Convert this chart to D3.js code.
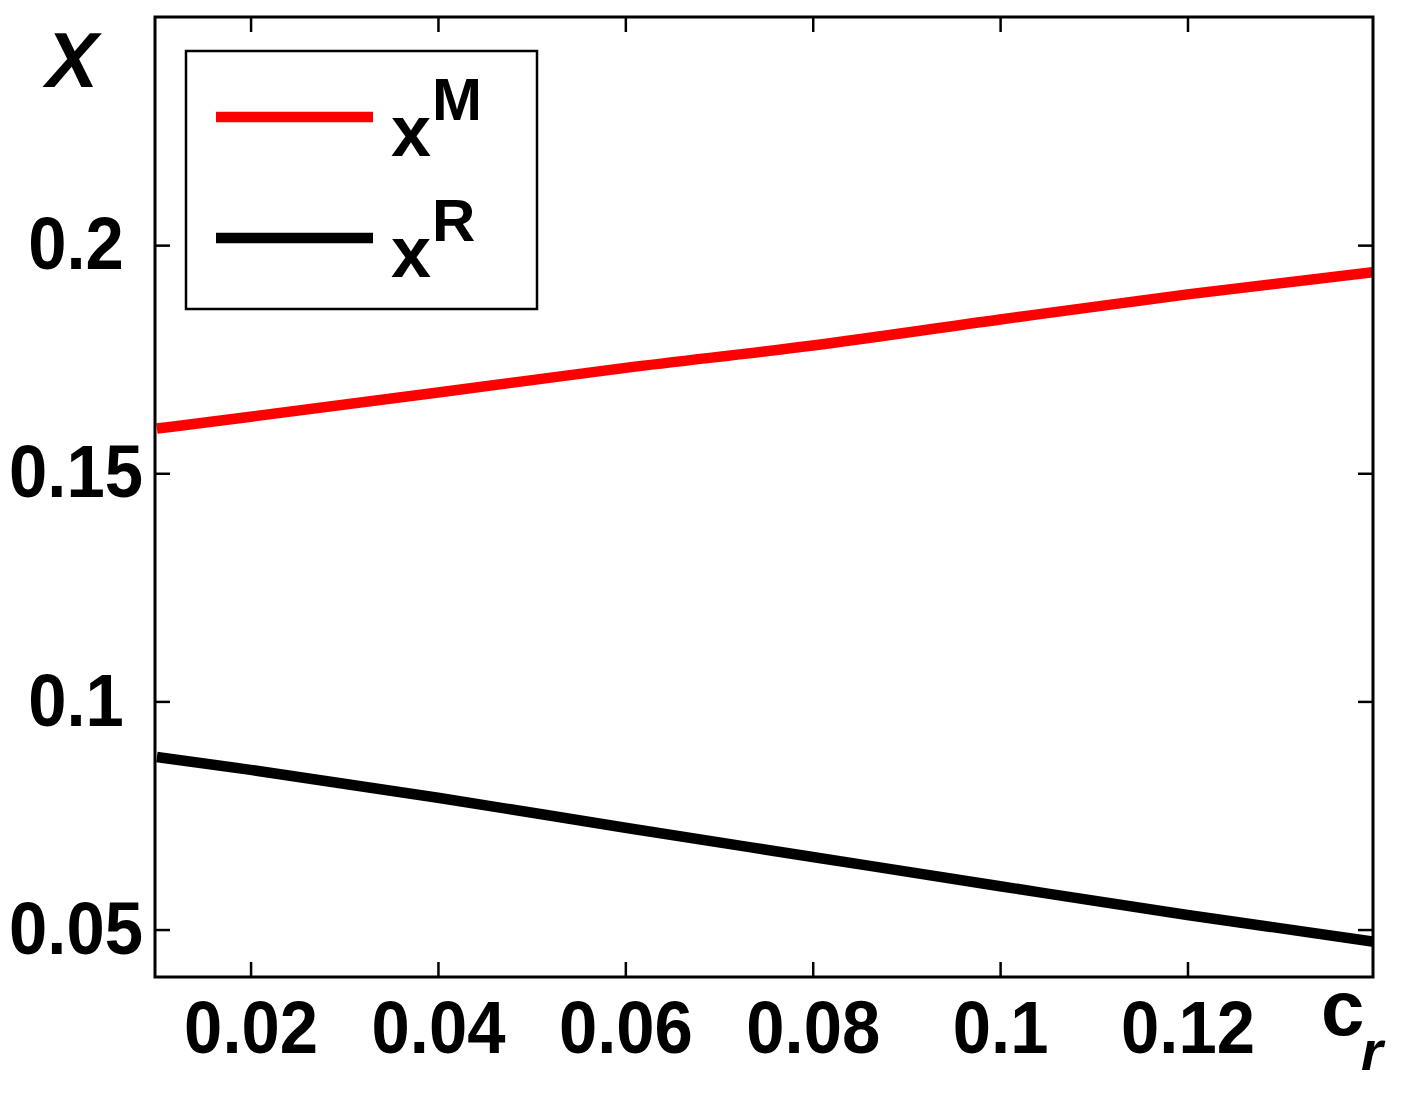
<!DOCTYPE html>
<html>
<head>
<meta charset="utf-8">
<script src="https://cdn.jsdelivr.net/npm/d3@7"></script>
<style>
  body { margin: 0; background: #fff; }
  svg text { font-family: "Liberation Sans", Arial, sans-serif; }
</style>
</head>
<body>
<div id="chart"></div>
<script>
// values
var crValues = [0.01, 0.02, 0.04, 0.06, 0.08, 0.10, 0.12, 0.14];
var xM = [0.1598, 0.1624, 0.1677, 0.1731, 0.1780, 0.1837, 0.1892, 0.1941];
var xR = [0.0878, 0.0850, 0.0789, 0.0723, 0.0659, 0.0595, 0.0532, 0.0473];
var xTicks = [0.02, 0.04, 0.06, 0.08, 0.1, 0.12];
var yTicks = [0.05, 0.1, 0.15, 0.2];
var xTickLabels = ["0.02", "0.04", "0.06", "0.08", "0.1", "0.12"];
var yTickLabels = ["0.05", "0.1", "0.15", "0.2"];
var seriesNames = ["M", "R"];
var seriesColors = ["#ff0000", "#000000"];

var W = 1409, H = 1100;
var margin = {top: 17, right: 36, bottom: 123, left: 155};
var width = W - margin.left - margin.right,
    height = H - margin.top - margin.bottom;

var svg = d3.select("#chart").append("svg")
    .attr("width", W)
    .attr("height", H);

var g = svg.append("g")
    .attr("transform", "translate(" + margin.left + "," + margin.top + ")");

var xScale = d3.scaleLinear().domain([0.0098, 0.1398]).range([0, width]),
    yScale = d3.scaleLinear().domain([0.0396, 0.25]).range([height, 0]);

g.append("clipPath").attr("id", "clip")
  .append("rect").attr("width", width).attr("height", height);

// series lines
var series = [xM, xR];
var line = d3.line()
    .x(function(d, i) { return xScale(crValues[i]); })
    .y(function(d) { return yScale(d); })
    .curve(d3.curveMonotoneX);

g.append("g").attr("clip-path", "url(#clip)")
  .selectAll("path")
  .data(series)
  .enter().append("path")
    .attr("d", line)
    .attr("fill", "none")
    .attr("stroke", function(d, i) { return seriesColors[i]; })
    .attr("stroke-width", 10.5);

// axes, ticks pointing inward on all four sides
var fontSize = 74, squeeze = 0.93;

var xAxis = d3.axisBottom(xScale).tickValues(xTicks)
    .tickFormat(function(d, i) { return xTickLabels[i]; })
    .tickSizeInner(-15).tickSizeOuter(0).tickPadding(23);
var yAxis = d3.axisLeft(yScale).tickValues(yTicks)
    .tickFormat(function(d, i) { return yTickLabels[i]; })
    .tickSizeInner(-15).tickSizeOuter(0);

var gx = g.append("g")
    .attr("transform", "translate(0," + height + ")")
    .call(xAxis);
var gy = g.append("g").call(yAxis);

g.append("g")
    .call(d3.axisTop(xScale).tickValues(xTicks).tickFormat("").tickSizeInner(-15).tickSizeOuter(0));
g.append("g")
    .attr("transform", "translate(" + width + ",0)")
    .call(d3.axisRight(yScale).tickValues(yTicks).tickFormat("").tickSizeInner(-15).tickSizeOuter(0));

g.selectAll(".domain").remove();
g.selectAll(".tick line").attr("stroke", "#000").attr("stroke-width", 2.5);

gx.selectAll(".tick text")
    .attr("fill", "#000")
    .attr("font-size", fontSize)
    .attr("font-weight", "bold")
    .attr("transform", "scale(" + squeeze + ",1)");

gy.selectAll(".tick text")
    .attr("fill", "#000")
    .attr("font-size", fontSize)
    .attr("font-weight", "bold")
    .attr("text-anchor", "middle")
    .attr("x", 0)
    .attr("transform", "translate(" + (76 - margin.left) + ",0) scale(" + squeeze + ",1)");

// frame
g.append("rect")
    .attr("width", width)
    .attr("height", height)
    .attr("fill", "none")
    .attr("stroke", "#000")
    .attr("stroke-width", 3);

// axis titles
svg.append("text")
    .attr("x", 46).attr("y", 87)
    .attr("font-size", 78)
    .attr("font-style", "italic")
    .attr("font-weight", "bold")
    .text("X");

var cr = svg.append("text")
    .attr("x", 1321).attr("y", 1035)
    .attr("font-size", 78)
    .attr("font-weight", "bold");
cr.append("tspan").text("c");
cr.append("tspan")
    .attr("x", 1361).attr("y", 1070)
    .attr("font-size", 56)
    .attr("font-style", "italic")
    .text("r");

// legend
var legend = svg.append("g");
legend.append("rect")
    .attr("x", 186).attr("y", 51)
    .attr("width", 351).attr("height", 258)
    .attr("fill", "#fff")
    .attr("stroke", "#000")
    .attr("stroke-width", 2.5);

var rowY = [117, 238];
var item = legend.selectAll(".item")
    .data(seriesNames)
  .enter().append("g")
    .attr("class", "item")
    .attr("transform", function(d, i) { return "translate(0," + rowY[i] + ")"; });

item.append("line")
    .attr("x1", 216).attr("x2", 373)
    .attr("stroke", function(d, i) { return seriesColors[i]; })
    .attr("stroke-width", 10.5);

item.append("text")
    .attr("x", 391).attr("y", 39)
    .attr("font-size", 72)
    .attr("font-weight", "bold")
    .text("x");

item.append("text")
    .attr("x", 432).attr("y", 3)
    .attr("font-size", 60)
    .attr("font-weight", "bold")
    .text(function(d) { return d; });
</script>
</body>
</html>
